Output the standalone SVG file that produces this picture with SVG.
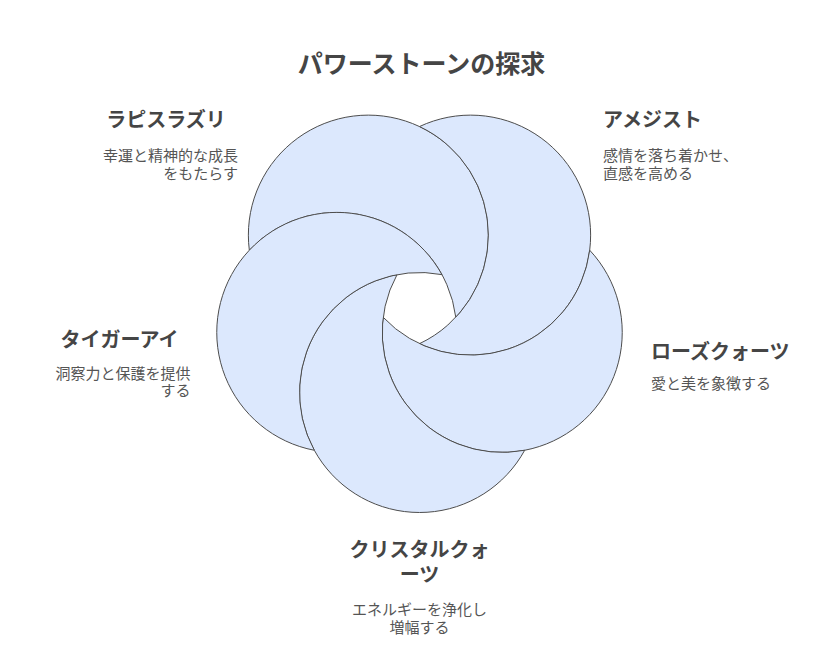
<svg xmlns="http://www.w3.org/2000/svg" width="840" height="672" viewBox="0 0 840 672">
<style>
.shape{fill:#dce8fd;stroke:#4d4d4d;stroke-width:1}
.ttl{font-family:"Noto Sans CJK JP","Noto Sans",sans-serif;font-weight:700;font-size:20px;fill:#454545}
.dsc{font-family:"Noto Sans CJK JP","Noto Sans",sans-serif;font-size:15px;fill:#555555}
.main{font-family:"Noto Sans CJK JP","Noto Sans",sans-serif;font-weight:700;font-size:25px;fill:#454545}
</style>
<rect width="840" height="672" fill="#ffffff"/>
<text class="main" x="421.5" y="73" text-anchor="middle">パワーストーンの探求</text>
<g id="node-lapis">
<path class="shape" d="M 455.806 317.297 A 120 120 0 1 0 249.314 250.203 A 120 120 0 0 1 455.806 317.297 Z"/>
<text class="ttl" x="166" y="127" text-anchor="middle">ラピスラズリ</text>
<text class="dsc" text-anchor="end"><tspan x="238" y="161">幸運と精神的な成長</tspan><tspan x="238" y="178.5">をもたらす</tspan></text>
</g>
<g id="node-amethyst">
<path class="shape" d="M 419.5 343.674 A 120 120 0 1 0 419.5 126.556 A 120 120 0 0 1 419.5 343.674 Z"/>
<text class="ttl" x="603" y="127">アメジスト</text>
<text class="dsc"><tspan x="603" y="161">感情を落ち着かせ、</tspan><tspan x="603" y="178.5">直感を高める</tspan></text>
</g>
<g id="node-rose">
<path class="shape" d="M 383.194 317.297 A 120 120 0 1 0 589.686 250.203 A 120 120 0 0 1 383.194 317.297 Z"/>
<text class="ttl" x="651" y="359">ローズクォーツ</text>
<text class="dsc" x="651" y="389">愛と美を象徴する</text>
</g>
<g id="node-crystal">
<path class="shape" d="M 397.062 274.616 A 120 120 0 1 0 524.681 450.268 A 120 120 0 0 1 397.062 274.616 Z"/>
<text class="ttl" text-anchor="middle"><tspan x="419.5" y="557">クリスタルクォ</tspan><tspan x="419.5" y="582">ーツ</tspan></text>
<text class="dsc" text-anchor="middle"><tspan x="419.5" y="615">エネルギーを浄化し</tspan><tspan x="419.5" y="632.5">増幅する</tspan></text>
</g>
<g id="node-tiger">
<path class="shape" d="M 441.938 274.616 A 120 120 0 1 0 314.319 450.268 A 120 120 0 0 1 441.938 274.616 Z"/>
<text class="ttl" x="119.5" y="347" text-anchor="middle">タイガーアイ</text>
<text class="dsc" text-anchor="end"><tspan x="190.5" y="378.5">洞察力と保護を提供</tspan><tspan x="190.5" y="396">する</tspan></text>
</g>
<g id="connectors"></g>
</svg>
